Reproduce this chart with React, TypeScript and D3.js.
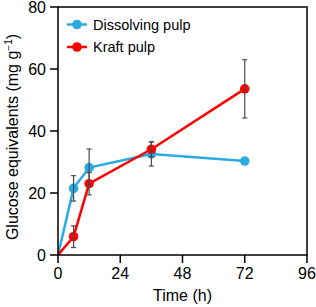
import React from "react";
import * as d3 from "d3";

const hours = [0, 6, 12, 36, 72];
const dissolving = [0, 21.5, 28.2, 32.6, 30.3];
const dissolvingErr = [0, 4.1, 6.0, 3.9, 0];
const kraft = [0, 5.9, 23.0, 34.1, 53.6];
const kraftErr = [0, 3.5, 3.6, 2.4, 9.4];
const xTicks = [0, 24, 48, 72, 96];
const yTicks = [0, 20, 40, 60, 80];

const BLUE = "#29abe2";
const RED = "#ff0000";
const FONT = "Liberation Sans, Arial, sans-serif";

export default function App() {
  const width = 316;
  const height = 307;
  const margin = { top: 7, right: 9, bottom: 52, left: 58 };
  const innerW = width - margin.left - margin.right;
  const innerH = height - margin.top - margin.bottom;

  const x = d3.scaleLinear().domain([0, 96]).range([0, innerW]);
  const y = d3.scaleLinear().domain([0, 80]).range([innerH, 0]);

  const series = [
    { name: "Dissolving pulp", color: BLUE, values: dissolving, errs: dissolvingErr },
    { name: "Kraft pulp", color: RED, values: kraft, errs: kraftErr },
  ];

  const line = d3
    .line<number>()
    .x((_, i) => x(hours[i]))
    .y((d) => y(d));

  return (
    <svg
      width={width}
      height={height}
      style={{ position: "absolute", left: 0, top: 0, background: "#fff" }}
      fontFamily={FONT}
    >
      <defs>
        <clipPath id="plot">
          <rect x={0} y={0} width={innerW} height={innerH} />
        </clipPath>
      </defs>
      <g transform={`translate(${margin.left},${margin.top})`}>
        {/* lines */}
        <g clipPath="url(#plot)">
          {series.map((s) => (
            <path
              key={s.name}
              d={line(s.values) || ""}
              fill="none"
              stroke={s.color}
              strokeWidth={2.5}
            />
          ))}
        </g>

        {/* markers */}
        {series.map((s) =>
          s.values.map((v, i) =>
            hours[i] === 0 ? null : (
              <circle
                key={`${s.name}-${i}`}
                cx={x(hours[i])}
                cy={y(v)}
                r={4.8}
                fill={s.color}
              />
            )
          )
        )}

        {/* error bars */}
        {series.map((s) =>
          s.values.map((v, i) => {
            if (!s.errs[i]) return null;
            const cx = x(hours[i]);
            const y1 = y(v + s.errs[i]);
            const y2 = y(v - s.errs[i]);
            return (
              <g key={`err-${s.name}-${i}`} stroke="#4a4a4a" strokeWidth={1.2}>
                <line x1={cx} x2={cx} y1={y1} y2={y2} />
                <line x1={cx - 2.5} x2={cx + 2.5} y1={y1} y2={y1} />
                <line x1={cx - 2.5} x2={cx + 2.5} y1={y2} y2={y2} />
              </g>
            );
          })
        )}

        {/* frame */}
        <rect
          x={0}
          y={0}
          width={innerW}
          height={innerH}
          fill="none"
          stroke="#000"
          strokeWidth={1.5}
        />

        {/* y axis */}
        {yTicks.map((t) => (
          <g key={`y-${t}`}>
            <line x1={-8} x2={0} y1={y(t)} y2={y(t)} stroke="#000" strokeWidth={1.5} />
            <text
              x={-12}
              y={y(t)}
              dy="0.36em"
              textAnchor="end"
              fontSize={16}
              fill="#000"
            >
              {t}
            </text>
          </g>
        ))}

        {/* x axis */}
        {xTicks.map((t) => (
          <g key={`x-${t}`}>
            <line x1={x(t)} x2={x(t)} y1={innerH} y2={innerH + 8} stroke="#000" strokeWidth={1.5} />
            <text
              x={x(t)}
              y={innerH + 24}
              textAnchor="middle"
              fontSize={16}
              fill="#000"
            >
              {t}
            </text>
          </g>
        ))}

        <text
          x={innerW / 2}
          y={innerH + 46}
          textAnchor="middle"
          fontSize={16}
          fill="#000"
        >
          Time (h)
        </text>

        <text
          transform={`translate(${-40},${innerH / 2 + 6}) rotate(-90)`}
          textAnchor="middle"
          fontSize={16}
          fill="#000"
        >
          Glucose equivalents (mg g
          <tspan dy={-6} fontSize={10}>−1</tspan>
          <tspan dy={6}>)</tspan>
        </text>

        {/* legend */}
        {series.map((s, i) => (
          <g key={`leg-${s.name}`} transform={`translate(9,${17.5 + i * 22.5})`}>
            <line x1={0} x2={20} y1={0} y2={0} stroke={s.color} strokeWidth={2.5} />
            <circle cx={10} cy={0} r={4.8} fill={s.color} />
            <text x={26} y={0} dy="0.36em" fontSize={14.5} fill="#000">
              {s.name}
            </text>
          </g>
        ))}
      </g>
    </svg>
  );
}
